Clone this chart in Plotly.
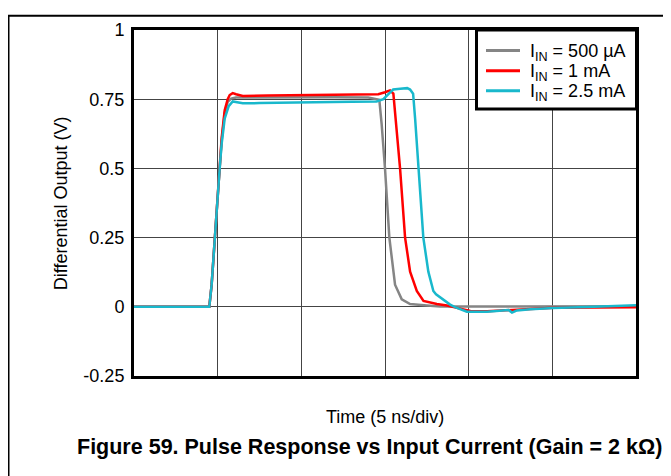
import plotly.graph_objects as go

# Time (ns), 5 ns/div, 6 divisions
gray_t = [0, 4.5, 4.64, 4.82, 5.0, 5.12, 5.24, 5.42, 5.60, 5.80, 6.1, 8, 10, 12, 14.0, 14.66,
          14.80, 15.0, 15.26, 15.60, 16.0, 16.5, 17.5, 18.3, 20, 25, 30]
gray_v = [0.0, 0.0, 0.08, 0.25, 0.40, 0.50, 0.60, 0.70, 0.74, 0.752, 0.756, 0.757, 0.758, 0.757,
          0.756, 0.748, 0.66, 0.50, 0.25, 0.08, 0.027, 0.01, 0.005, 0.001, 0.001, 0.002, 0.002]

red_t = [0, 4.5, 4.64, 4.82, 5.0, 5.12, 5.24, 5.42, 5.60, 5.72, 5.90, 6.1, 6.5, 8, 10, 12, 14.0,
         14.6, 15.0, 15.3, 15.5, 15.6, 15.9, 16.2, 16.5, 16.9, 17.3, 18.1, 18.7, 19.3, 20.1, 21.1,
         22.0, 22.7, 23.7, 25.1, 27.5, 30]
red_v = [0.0, 0.0, 0.08, 0.25, 0.40, 0.50, 0.61, 0.71, 0.75, 0.765, 0.772, 0.768, 0.762, 0.763,
         0.764, 0.764, 0.765, 0.768, 0.775, 0.782, 0.77, 0.70, 0.50, 0.25, 0.127, 0.057, 0.021,
         0.01, 0.005, -0.004, -0.015, -0.016, -0.014, -0.012, -0.008, -0.003, -0.003, -0.002]

cyan_t = [0, 4.5, 4.64, 4.82, 5.0, 5.12, 5.24, 5.42, 5.66, 5.90, 6.08, 6.5, 7.5, 9, 11, 13, 14.5,
          14.9, 15.31, 15.49, 15.91, 16.33, 16.50, 16.68, 16.80, 17.0, 17.29, 17.59, 17.89, 18.05,
          18.49, 18.89, 19.19, 19.89, 21.09, 21.89, 22.39, 22.59, 22.89, 23.68, 25.06, 27.07,
          29.07, 30]
cyan_v = [0.0, 0.0, 0.08, 0.25, 0.40, 0.50, 0.59, 0.68, 0.725, 0.742, 0.740, 0.735, 0.736, 0.738,
          0.740, 0.741, 0.742, 0.75, 0.775, 0.785, 0.788, 0.79, 0.785, 0.77, 0.68, 0.50, 0.25,
          0.127, 0.057, 0.045, 0.026, 0.008, -0.001, -0.018, -0.018, -0.013, -0.012, -0.021,
          -0.013, -0.009, -0.004, -0.001, 0.003, 0.006]

series_names = ["I<sub>IN</sub> = 500 µA", "I<sub>IN</sub> = 1 mA", "I<sub>IN</sub> = 2.5 mA"]
series_colors = ["#858585", "#ff0000", "#19b8cc"]

y_ticks = [-0.25, 0, 0.25, 0.5, 0.75, 1]
y_tick_labels = ["-0.25", "0", "0.25", "0.5", "0.75", "1"]

FONT = "Liberation Sans, Arial, sans-serif"

# plot area geometry inside the figure (page has an 8px body margin)
PW, PH = 502, 353


def px_x(p):  # figure-pixel x -> paper x
    return (p - 126) / PW


def px_y(p):  # figure-pixel y -> paper y
    return 1 - (p - 15) / PH


fig = go.Figure()
for t, v, name, col in zip([gray_t, red_t, cyan_t], [gray_v, red_v, cyan_v],
                           series_names, series_colors):
    fig.add_trace(go.Scatter(x=t, y=v, mode="lines", name=name, showlegend=False,
                             line=dict(color=col, width=2.5)))

fig.update_layout(
    width=663, height=468,
    margin=dict(l=126, r=35, t=15, b=100),
    paper_bgcolor="white", plot_bgcolor="white",
    font=dict(family=FONT, size=17, color="black"),
    showlegend=False,
)
fig.update_xaxes(range=[0, 30], tickvals=[5, 10, 15, 20, 25], showticklabels=False,
                 showgrid=True, gridcolor="#444", gridwidth=1.2,
                 showline=True, linecolor="black", linewidth=3, mirror=True,
                 zeroline=False, ticks="")
fig.update_yaxes(range=[-0.25, 1], tickvals=y_ticks, ticktext=y_tick_labels,
                 showgrid=True, gridcolor="#444", gridwidth=1.2,
                 showline=True, linecolor="black", linewidth=3, mirror=True,
                 zeroline=False, ticks="", ticklabelstandoff=3,
                 tickfont=dict(family=FONT, size=18, color="black"))

fig.add_annotation(text="Differential Output (V)", textangle=-90, xref="paper", yref="paper",
                   x=-0.145, y=0.5, xanchor="center", yanchor="middle", showarrow=False,
                   font=dict(family=FONT, size=18, color="black"))
fig.add_annotation(text="Time (5 ns/div)", xref="paper", yref="paper",
                   x=0.5, y=-0.118, xanchor="center", yanchor="middle", showarrow=False,
                   font=dict(family=FONT, size=18, color="black"))
fig.add_annotation(text="<b>Figure 59. Pulse Response vs Input Current (Gain = 2 kΩ)</b>",
                   xref="paper", yref="paper", x=0.47, y=-0.205, xanchor="center",
                   yanchor="middle", showarrow=False,
                   font=dict(family=FONT, size=21.5, color="black"))

# legend box drawn in the top-right corner of the plot
fig.add_shape(type="rect", xref="paper", yref="paper",
              x0=px_x(468.5), x1=px_x(628.5), y0=px_y(95.5), y1=px_y(15),
              line=dict(color="black", width=3), fillcolor="white", layer="above")
row_y = [36, 56.5, 77]
for name, col, ry in zip(series_names, series_colors, row_y):
    fig.add_shape(type="line", xref="paper", yref="paper",
                  x0=px_x(478), x1=px_x(512), y0=px_y(ry), y1=px_y(ry),
                  line=dict(color=col, width=3), layer="above")
    fig.add_annotation(text=name, xref="paper", yref="paper", x=px_x(520), y=px_y(ry + 1.5),
                       xanchor="left", yanchor="middle", showarrow=False,
                       font=dict(family=FONT, size=18, color="black"))

# outer figure frame (left and top edges visible)
fig.add_shape(type="rect", xref="paper", yref="paper",
              x0=px_x(0.5), x1=1.1, y0=-0.35, y1=px_y(0.5),
              line=dict(color="black", width=2), fillcolor="rgba(0,0,0,0)", layer="below")

fig.write_html("out.html")
